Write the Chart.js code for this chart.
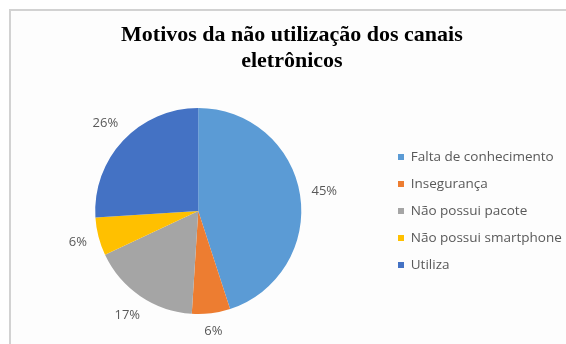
<!DOCTYPE html>
<html>
<head>
<meta charset="utf-8">
<script src="https://cdn.jsdelivr.net/npm/chart.js@4/dist/chart.umd.min.js"></script>
<style>
  html, body { margin: 0; padding: 0; background: #fff; overflow: hidden; }
  #moldura { position: absolute; left: 9px; top: 9px; width: 560px; height: 340px;
             border-left: 2px solid #d2d2d2; border-top: 2px solid #d2d2d2; background: #fdfdfd; }
  #grafico { position: absolute; left: 11px; top: 11px; }
</style>
</head>
<body>
<div id="moldura"></div>
<canvas id="grafico" width="555" height="333"></canvas>
<script>
"use strict"
const titulo = ["Motivos da não utilização dos canais", "eletrônicos"];
const categorias = ["Falta de conhecimento", "Insegurança", "Não possui pacote", "Não possui smartphone", "Utiliza"];
const percentuais = [45, 6, 17, 6, 26];
const cores = ["#5B9BD5", "#ED7D31", "#A5A5A5", "#FFC000", "#4472C4"];

// largura da legenda para deixar a pizza no lugar certo
const fonteLegenda = 13.5;
const espacoLegenda = 13.5;
const medidor = document.createElement("canvas").getContext("2d");
medidor.font = fonteLegenda + 'px "Open Sans"';
const maiorRotulo = Math.max(...categorias.map(t => medidor.measureText(t).width));
const larguraLegenda = espacoLegenda + 6 + fonteLegenda / 2 + maiorRotulo + 10;
const fimPizza = 387 - espacoLegenda; // borda esquerda da legenda
const folgaDireita = 555 - fimPizza - larguraLegenda;

// porcentagens desenhadas fora de cada fatia
const rotulosFora = {
    id: "rotulosFora",
    afterDatasetsDraw(chart) {
        const ctx = chart.ctx;
        const meta = chart.getDatasetMeta(0);
        ctx.save();
        ctx.font = '13px "Open Sans"';
        ctx.fillStyle = "#595959";
        ctx.textAlign = "center";
        ctx.textBaseline = "middle";
        meta.data.forEach((arco, i) => {
            const p = arco.getProps(["x", "y", "startAngle", "endAngle", "outerRadius"], true);
            const meio = (p.startAngle + p.endAngle) / 2;
            const texto = percentuais[i] + "%";
            const meiaLarg = ctx.measureText(texto).width / 2;
            const dist = p.outerRadius + 11 + Math.abs(Math.cos(meio)) * meiaLarg + Math.abs(Math.sin(meio)) * 6;
            ctx.fillText(texto, p.x + Math.cos(meio) * dist, p.y + Math.sin(meio) * dist);
        });
        ctx.restore();
    }
};

let chartOptions = {
    type: "pie",
    data: {
        labels: categorias,
        datasets: [{
            data: percentuais,
            backgroundColor: cores,
            borderWidth: 0
        }]
    },
    options: {
        responsive: false,
        animation: false,
        events: [],
        layout: { padding: { left: 1, right: folgaDireita, top: 0, bottom: 30 } },
        plugins: {
            title: {
                display: true,
                text: titulo,
                color: "#000",
                font: { family: "Liberation Serif", size: 22, weight: "bold", lineHeight: 1.18 },
                padding: { top: 11, bottom: 34 }
            },
            legend: {
                position: "right",
                fullSize: false,
                labels: {
                    color: "#595959",
                    font: { family: "Open Sans", size: fonteLegenda },
                    boxWidth: 6,
                    boxHeight: 6,
                    padding: espacoLegenda
                }
            },
            tooltip: { enabled: false }
        }
    },
    plugins: [rotulosFora]
};

let chart = new Chart(document.getElementById("grafico"), chartOptions);
</script>
</body>
</html>
